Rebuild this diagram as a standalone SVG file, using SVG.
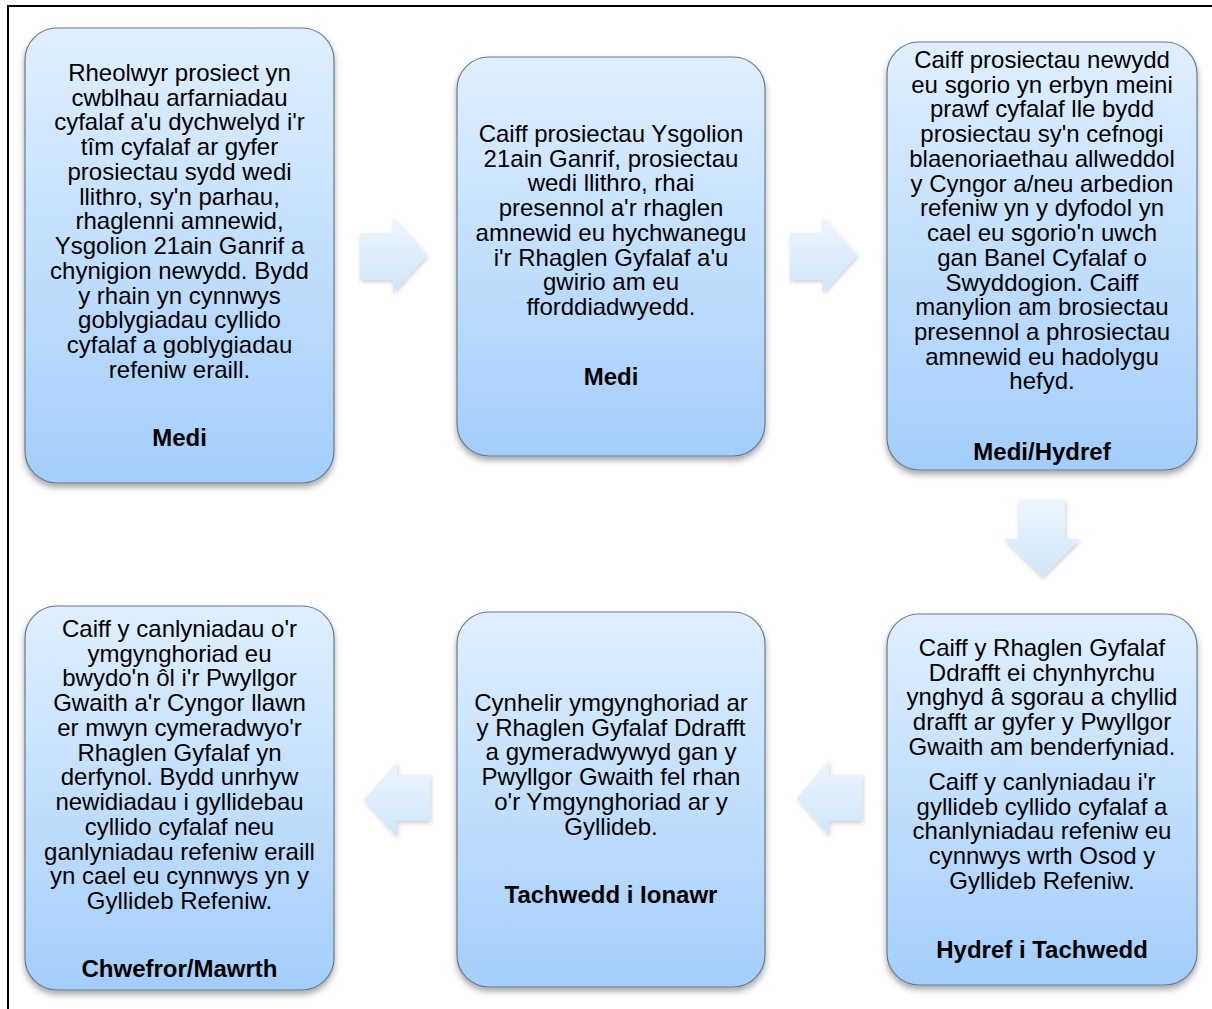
<svg xmlns="http://www.w3.org/2000/svg" width="1212" height="1009" viewBox="0 0 1212 1009">
<style>
.box{fill:url(#g);stroke:#6b7b8c;stroke-width:1.2;filter:url(#sh)}
.arr{fill:url(#ga);filter:url(#sa)}
text{font-family:"Liberation Sans",Arial,sans-serif;font-size:24px;fill:#000;text-anchor:middle}
.b{font-weight:bold}
</style>
<defs>
<linearGradient id="g" x1="0" y1="0" x2="0" y2="1">
<stop offset="0" stop-color="#e0efff"/>
<stop offset="1" stop-color="#a3cefb"/>
</linearGradient>
<linearGradient id="ga" x1="0" y1="0" x2="0" y2="1">
<stop offset="0" stop-color="#ecf5fe"/>
<stop offset="1" stop-color="#d0e5fb"/>
</linearGradient>
<filter id="sh" x="-10%" y="-10%" width="120%" height="120%">
<feDropShadow dx="0" dy="4" stdDeviation="3" flood-color="#000" flood-opacity="0.35"/>
</filter>
<filter id="sa" x="-20%" y="-20%" width="140%" height="140%">
<feDropShadow dx="1" dy="2" stdDeviation="2" flood-color="#000" flood-opacity="0.2"/>
</filter>
</defs>
<path d="M8 1009 V6 H1212" fill="none" stroke="#000" stroke-width="2"/>
<g id="connectors">
<path class="arr" d="M360 233 H393 V218 L427 255 L393 293 V280 H360 Z"/>
<path class="arr" d="M790 233 H823 V218 L857 255 L823 293 V280 H790 Z"/>
<path class="arr" d="M1018 500 H1065 V539 H1080 L1042 577 L1004 539 H1018 Z"/>
<path class="arr" d="M862 775 H829 V760 L797 798 L829 836 V821 H862 Z"/>
<path class="arr" d="M430 775 H397 V762 L364 800 L397 837 V821 H430 Z"/>
</g>
<g id="n1">
<rect class="box" x="25" y="28" width="309" height="455" rx="32"/>
<text x="179.5"><tspan x="179.5" y="81">Rheolwyr prosiect yn</tspan><tspan x="179.5" y="105.7">cwblhau arfarniadau</tspan><tspan x="179.5" y="130.4">cyfalaf a'u dychwelyd i'r</tspan><tspan x="179.5" y="155.2">tîm cyfalaf ar gyfer</tspan><tspan x="179.5" y="179.9">prosiectau sydd wedi</tspan><tspan x="179.5" y="204.6">llithro, sy'n parhau,</tspan><tspan x="179.5" y="229.3">rhaglenni amnewid,</tspan><tspan x="179.5" y="254">Ysgolion 21ain Ganrif a</tspan><tspan x="179.5" y="278.8">chynigion newydd. Bydd</tspan><tspan x="179.5" y="303.5">y rhain yn cynnwys</tspan><tspan x="179.5" y="328.2">goblygiadau cyllido</tspan><tspan x="179.5" y="352.9">cyfalaf a goblygiadau</tspan><tspan x="179.5" y="377.6">refeniw eraill.</tspan></text>
<text class="b" x="179.5" y="446">Medi</text>
</g>
<g id="n2">
<rect class="box" x="457" y="57" width="308" height="399" rx="32"/>
<text><tspan x="611" y="142">Caiff prosiectau Ysgolion</tspan><tspan x="611" y="166.7">21ain Ganrif, prosiectau</tspan><tspan x="611" y="191.4">wedi llithro, rhai</tspan><tspan x="611" y="216.2">presennol a'r rhaglen</tspan><tspan x="611" y="240.9">amnewid eu hychwanegu</tspan><tspan x="611" y="265.6">i'r Rhaglen Gyfalaf a'u</tspan><tspan x="611" y="290.3">gwirio am eu</tspan><tspan x="611" y="315">fforddiadwyedd.</tspan></text>
<text class="b" x="611" y="385">Medi</text>
</g>
<g id="n3">
<rect class="box" x="887" y="42" width="310" height="428" rx="32"/>
<text><tspan x="1042" y="68">Caiff prosiectau newydd</tspan><tspan x="1042" y="92.7">eu sgorio yn erbyn meini</tspan><tspan x="1042" y="117.4">prawf cyfalaf lle bydd</tspan><tspan x="1042" y="142.2">prosiectau sy'n cefnogi</tspan><tspan x="1042" y="166.9">blaenoriaethau allweddol</tspan><tspan x="1042" y="191.6">y Cyngor a/neu arbedion</tspan><tspan x="1042" y="216.3">refeniw yn y dyfodol yn</tspan><tspan x="1042" y="241">cael eu sgorio'n uwch</tspan><tspan x="1042" y="265.8">gan Banel Cyfalaf o</tspan><tspan x="1042" y="290.5">Swyddogion. Caiff</tspan><tspan x="1042" y="315.2">manylion am brosiectau</tspan><tspan x="1042" y="339.9">presennol a phrosiectau</tspan><tspan x="1042" y="364.6">amnewid eu hadolygu</tspan><tspan x="1042" y="389.4">hefyd.</tspan></text>
<text class="b" x="1042" y="460">Medi/Hydref</text>
</g>
<g id="n4">
<rect class="box" x="887" y="614" width="310" height="371" rx="32"/>
<text><tspan x="1042" y="656">Caiff y Rhaglen Gyfalaf</tspan><tspan x="1042" y="680.7">Ddrafft ei chynhyrchu</tspan><tspan x="1042" y="705.4">ynghyd â sgorau a chyllid</tspan><tspan x="1042" y="730.2">drafft ar gyfer y Pwyllgor</tspan><tspan x="1042" y="754.9">Gwaith am benderfyniad.</tspan></text>
<text><tspan x="1042" y="790">Caiff y canlyniadau i'r</tspan><tspan x="1042" y="814.7">gyllideb cyllido cyfalaf a</tspan><tspan x="1042" y="839.4">chanlyniadau refeniw eu</tspan><tspan x="1042" y="864.2">cynnwys wrth Osod y</tspan><tspan x="1042" y="888.9">Gyllideb Refeniw.</tspan></text>
<text class="b" x="1042" y="958">Hydref i Tachwedd</text>
</g>
<g id="n5">
<rect class="box" x="457" y="612" width="308" height="375" rx="32"/>
<text><tspan x="611" y="711">Cynhelir ymgynghoriad ar</tspan><tspan x="611" y="735.7">y Rhaglen Gyfalaf Ddrafft</tspan><tspan x="611" y="760.4">a gymeradwywyd gan y</tspan><tspan x="611" y="785.2">Pwyllgor Gwaith fel rhan</tspan><tspan x="611" y="809.9">o'r Ymgynghoriad ar y</tspan><tspan x="611" y="834.6">Gyllideb.</tspan></text>
<text class="b" x="611" y="903">Tachwedd i Ionawr</text>
</g>
<g id="n6">
<rect class="box" x="25" y="606" width="309" height="384" rx="32"/>
<text><tspan x="179.5" y="637">Caiff y canlyniadau o'r</tspan><tspan x="179.5" y="661.7">ymgynghoriad eu</tspan><tspan x="179.5" y="686.4">bwydo'n ôl i'r Pwyllgor</tspan><tspan x="179.5" y="711.2">Gwaith a'r Cyngor llawn</tspan><tspan x="179.5" y="735.9">er mwyn cymeradwyo'r</tspan><tspan x="179.5" y="760.6">Rhaglen Gyfalaf yn</tspan><tspan x="179.5" y="785.3">derfynol. Bydd unrhyw</tspan><tspan x="179.5" y="810">newidiadau i gyllidebau</tspan><tspan x="179.5" y="834.8">cyllido cyfalaf neu</tspan><tspan x="179.5" y="859.5">ganlyniadau refeniw eraill</tspan><tspan x="179.5" y="884.2">yn cael eu cynnwys yn y</tspan><tspan x="179.5" y="908.9">Gyllideb Refeniw.</tspan></text>
<text class="b" x="179.5" y="977">Chwefror/Mawrth</text>
</g>
</svg>
